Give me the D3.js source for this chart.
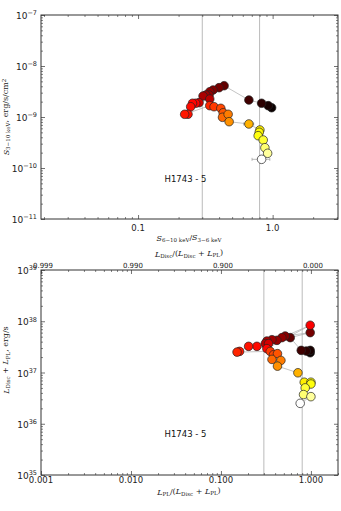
<!DOCTYPE html>
<html>
<head>
<meta charset="utf-8">
<script src="https://cdn.jsdelivr.net/npm/d3@7"></script>
<style>
  body { margin: 0; background: #fff; }
  svg { display: block; }
</style>
</head>
<body>
<div id="chart"></div>
<script>
// observation time, scaled 0..1 (drives the "hot" colour of each point)
const time = [0, 0.02, 0.05, 0.08, 0.13, 0.16, 0.18, 0.20, 0.21, 0.22, 0.24, 0.26, 0.30, 0.36, 0.37, 0.38,
    0.39, 0.40, 0.42, 0.45, 0.47, 0.49, 0.52, 0.55, 0.58, 0.63, 0.72, 0.74, 0.76, 0.80, 0.86, 0.90, 1.0]

// top panel: hardness ratio vs 3-10 keV flux
const hardness = [0.983, 0.927, 0.828, 0.666, 0.436, 0.400, 0.361, 0.341, 0.337, 0.319, 0.304, 0.341, 0.284, 0.268, 0.254, 0.246,
    0.235, 0.222, 0.341, 0.367, 0.412, 0.429, 0.424, 0.467, 0.475, 0.666, 0.804, 0.795, 0.781, 0.851, 0.876, 0.918, 0.828]
const hardnessErr = [0, 0, 0, 0.02, 0, 0, 0, 0, 0, 0, 0, 0, 0, 0, 0, 0,
    0, 0, 0, 0, 0, 0, 0, 0, 0, 0.057, 0, 0, 0, 0, 0.03, 0.06, 0.125]
const flux = [1.52e-9, 1.67e-9, 1.86e-9, 2.15e-9, 4.11e-9, 3.76e-9, 3.38e-9, 3.13e-9, 2.70e-9, 2.70e-9, 2.58e-9, 2.25e-9, 1.91e-9, 1.86e-9, 1.86e-9, 1.59e-9,
    1.13e-9, 1.13e-9, 1.67e-9, 1.59e-9, 1.48e-9, 1.21e-9, 9.86e-10, 1.13e-9, 8.09e-10, 7.30e-10, 5.56e-10, 5.01e-10, 4.30e-10, 3.54e-10, 2.50e-10, 1.94e-10, 1.48e-10]

// bottom panel: power-law fraction vs total luminosity
const plFrac = [0.982, 0.982, 0.887, 0.780, 0.589, 0.982, 0.518, 0.476, 0.419, 0.369, 0.324, 0.311, 0.338, 0.982, 0.324, 0.251,
    0.203, 0.161, 0.151, 0.353, 0.384, 0.425, 0.369, 0.464, 0.425, 0.717, 0.843, 1.0, 1.0, 0.864, 0.828, 1.0, 0.760]
const lum = [2.43e37, 2.70e37, 2.62e37, 2.70e37, 4.79e37, 6.00e37, 5.15e37, 4.79e37, 4.24e37, 4.37e37, 4.11e37, 3.66e37, 3.66e37, 8.36e37, 2.92e37, 3.24e37,
    3.24e37, 2.58e37, 2.50e37, 2.58e37, 2.22e37, 2.33e37, 1.80e37, 1.72e37, 1.33e37, 9.87e36, 6.46e36, 6.46e36, 5.96e36, 5.01e36, 3.71e36, 3.38e36, 2.50e36]

const stateLines = [0.3, 0.8]

const topXTicks = [0.1, 1.0]
const topXLabels = ["0.1", "1.0"]
const topYExp = [-11, -10, -9, -8, -7]

const botXTicks = [0.001, 0.01, 0.1, 1.0]
const botXLabels = ["0.001", "0.010", "0.100", "1.000"]
const botTopLabels = ["0.999", "0.990", "0.900", "0.000"]
const botYExp = [35, 36, 37, 38, 39]

const sourceName = "H1743 - 5"

const W = 341, H = 511
const svg = d3.select("#chart").append("svg").attr("width", W).attr("height", H)

function hot(t) {
    const c = v => Math.max(0, Math.min(1, v))
    const r = c(0.0416 + t / 0.365 * (1 - 0.0416))
    const g = c((t - 0.365) / (0.746 - 0.365))
    const b = c((t - 0.746) / (1 - 0.746))
    return d3.rgb(r * 255, g * 255, b * 255).toString()
}

function minorTicks(domain) {
    const out = []
    const lo = Math.floor(Math.log10(domain[0])), hi = Math.ceil(Math.log10(domain[1]))
    for (let e = lo; e <= hi; e++) {
        for (let m = 2; m <= 9; m++) {
            const v = m * Math.pow(10, e)
            if (v >= domain[0] && v <= domain[1]) out.push(v)
        }
    }
    return out
}

function frame(x, y, box) {
    const g = svg.append("g")
    const xd = x.domain(), yd = y.domain()
    // ticks pointing inwards, on all four sides
    const sides = [
        [d3.axisBottom, x, box.bottom, "x"], [d3.axisTop, x, box.top, "x"],
        [d3.axisLeft, y, box.left, "y"], [d3.axisRight, y, box.right, "y"]
    ]
    sides.forEach(([ax, sc, pos, dir]) => {
        const majors = dir == "x" ? box.xMajor : box.yMajor
        const minors = minorTicks(sc.domain())
        const tr = dir == "x" ? `translate(0,${pos})` : `translate(${pos},0)`
        g.append("g").attr("transform", tr)
            .call(ax(sc).tickValues(minors).tickSize(-2).tickFormat(""))
            .call(a => a.select(".domain").remove())
            .selectAll("line").attr("stroke", "#333").attr("stroke-width", 0.6)
        g.append("g").attr("transform", tr)
            .call(ax(sc).tickValues(majors).tickSize(-4).tickFormat(""))
            .call(a => a.select(".domain").remove())
            .selectAll("line").attr("stroke", "#333").attr("stroke-width", 0.7)
    })
    g.append("rect")
        .attr("x", box.left).attr("y", box.top)
        .attr("width", box.right - box.left).attr("height", box.bottom - box.top)
        .attr("fill", "none").attr("stroke", "#333").attr("stroke-width", 1)
    return g
}

function powLabels(y, exps, xPos) {
    exps.forEach(e => {
        const t = svg.append("text")
            .attr("x", xPos).attr("y", y(Math.pow(10, e)) + 4)
            .attr("text-anchor", "end")
            .attr("font-family", "DejaVu Sans").attr("font-size", "9px").attr("fill", "#222")
        t.append("tspan").text("10")
        t.append("tspan").attr("dy", "-0.55em").attr("font-size", "6.5px").text(e < 0 ? "\u2212" + (-e) : e)
    })
}

function mathText(parts, x, y, rotate) {
    const t = svg.append("text")
        .attr("font-family", "DejaVu Serif").attr("font-size", "8px").attr("fill", "#222")
        .attr("text-anchor", "middle")
    if (rotate) t.attr("transform", `translate(${x},${y}) rotate(-90)`)
    else t.attr("x", x).attr("y", y)
    parts.forEach(p => {
        const s = t.append("tspan").text(p.t)
        if (p.i) s.attr("font-style", "italic")
        if (p.sub) s.attr("font-size", "5.5px").attr("dy", "0.25em")
        if (p.sup) s.attr("font-size", "5.5px").attr("dy", "-0.5em")
        if (p.back) s.attr("dy", p.back)
    })
    return t
}

function panel(x, y, box, xs, ys, errs) {
    // vertical state boundaries
    svg.append("g").selectAll("line").data(stateLines).join("line")
        .attr("x1", d => x(d)).attr("x2", d => x(d))
        .attr("y1", box.top).attr("y2", box.bottom)
        .attr("stroke", "#bbb").attr("stroke-width", 1)

    const pts = d3.range(xs.length).map(i => ({ x: xs[i], y: ys[i], e: errs ? errs[i] : 0, t: time[i] }))

    svg.append("path").datum(pts)
        .attr("fill", "none").attr("stroke", "#aaa").attr("stroke-width", 0.7)
        .attr("d", d3.line().x(d => x(d.x)).y(d => y(d.y)))

    const eb = svg.append("g").selectAll("g").data(pts.filter(d => d.e > 0)).join("g")
        .attr("stroke", "#999").attr("stroke-width", 0.7)
    eb.append("line")
        .attr("x1", d => x(d.x - d.e)).attr("x2", d => x(d.x + d.e))
        .attr("y1", d => y(d.y)).attr("y2", d => y(d.y))
    eb.append("line")
        .attr("x1", d => x(d.x - d.e)).attr("x2", d => x(d.x - d.e))
        .attr("y1", d => y(d.y) - 1.5).attr("y2", d => y(d.y) + 1.5)
    eb.append("line")
        .attr("x1", d => x(d.x + d.e)).attr("x2", d => x(d.x + d.e))
        .attr("y1", d => y(d.y) - 1.5).attr("y2", d => y(d.y) + 1.5)

    svg.append("g").selectAll("circle").data(pts).join("circle")
        .attr("cx", d => x(d.x)).attr("cy", d => y(d.y))
        .attr("r", 4.3)
        .attr("fill", d => hot(d.t))
        .attr("stroke", "#222").attr("stroke-width", 0.7)

    frame(x, y, box)

    svg.append("text")
        .attr("x", (box.left + box.right) / 2 - 4).attr("y", box.textY)
        .attr("text-anchor", "middle")
        .attr("font-family", "DejaVu Sans").attr("font-size", "8.5px").attr("fill", "#111")
        .text(sourceName)
}

// ---- top panel ----
const box1 = { left: 41, right: 338, top: 15, bottom: 219, textY: 182, xMajor: topXTicks, yMajor: topYExp.map(e => Math.pow(10, e)) }
const x1 = d3.scaleLog().domain([0.019, 3.06]).range([box1.left, box1.right])
const y1 = d3.scaleLog().domain([1e-11, 1e-7]).range([box1.bottom, box1.top])
panel(x1, y1, box1, hardness, flux, hardnessErr)

powLabels(y1, topYExp, 37)
topXTicks.forEach((v, i) => {
    svg.append("text").attr("x", x1(v)).attr("y", 231)
        .attr("text-anchor", "middle").attr("font-family", "DejaVu Sans").attr("font-size", "8.5px").attr("fill", "#222")
        .text(topXLabels[i])
})
mathText([{ t: "S", i: true }, { t: "6\u221210 keV", sub: true }, { t: "/", back: "-0.25em" }, { t: "S", i: true }, { t: "3\u22126 keV", sub: true }], 189, 241)
mathText([{ t: "S", i: true }, { t: "3\u221210 keV", sub: true }, { t: ", erg/s/cm", back: "-0.25em" }, { t: "2", sup: true }], 9, 117, true)

// ---- bottom panel ----
const box2 = { left: 41, right: 338, top: 270, bottom: 475, textY: 437, xMajor: botXTicks, yMajor: botYExp.map(e => Math.pow(10, e)) }
const x2 = d3.scaleLog().domain([0.001, 2]).range([box2.left, box2.right])
const y2 = d3.scaleLog().domain([1e35, 1e39]).range([box2.bottom, box2.top])
panel(x2, y2, box2, plFrac, lum, null)

powLabels(y2, botYExp, 37)
botXTicks.forEach((v, i) => {
    svg.append("text").attr("x", x2(v)).attr("y", 483)
        .attr("text-anchor", "middle").attr("font-family", "DejaVu Sans").attr("font-size", "8.5px").attr("fill", "#222")
        .text(botXLabels[i])
    svg.append("text").attr("x", x2(v) + 2).attr("y", 268)
        .attr("text-anchor", "middle").attr("font-family", "DejaVu Sans").attr("font-size", "7px").attr("fill", "#222")
        .text(botTopLabels[i])
})
mathText([{ t: "L", i: true }, { t: "PL", sub: true }, { t: "/(", back: "-0.25em" }, { t: "L", i: true }, { t: "Disc", sub: true },
    { t: " + ", back: "-0.25em" }, { t: "L", i: true }, { t: "PL", sub: true }, { t: ")", back: "-0.25em" }], 189, 495)
mathText([{ t: "L", i: true }, { t: "Disc", sub: true }, { t: "/(", back: "-0.25em" }, { t: "L", i: true }, { t: "Disc", sub: true },
    { t: " + ", back: "-0.25em" }, { t: "L", i: true }, { t: "PL", sub: true }, { t: ")", back: "-0.25em" }], 189, 257)
mathText([{ t: "L", i: true }, { t: "Disc", sub: true }, { t: " + ", back: "-0.25em" }, { t: "L", i: true }, { t: "PL", sub: true },
    { t: ", erg/s", back: "-0.25em" }], 9, 360, true)
</script>
</body>
</html>
